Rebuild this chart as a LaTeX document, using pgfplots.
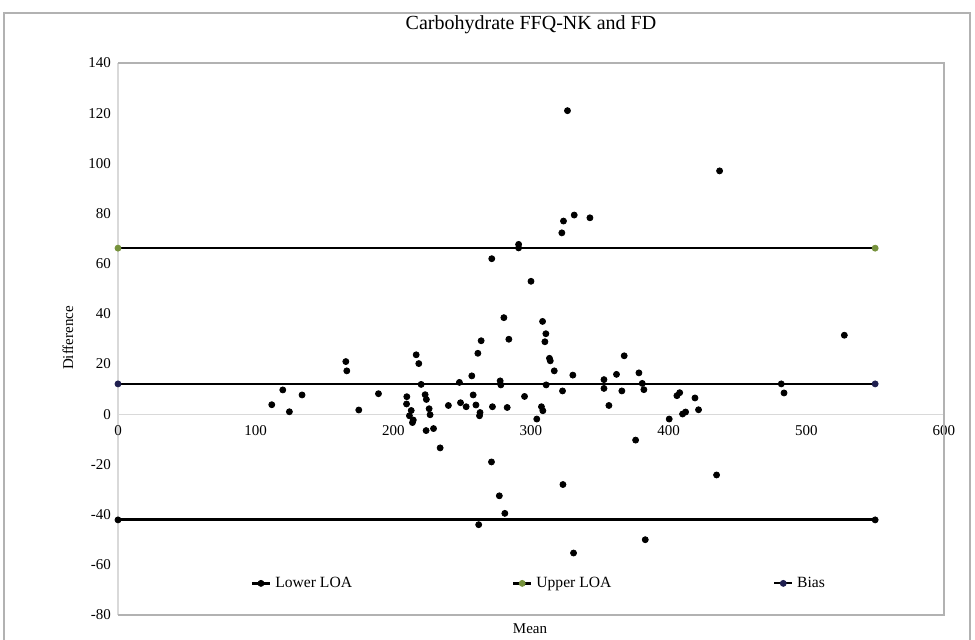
\documentclass[border=0pt]{standalone}
\usepackage{pgfplots}
\pgfplotsset{compat=1.18}
\usepackage{fontspec}
\setmainfont{Liberation Serif}
\definecolor{olivem}{HTML}{76923C}
\definecolor{navym}{HTML}{1F1F4F}
\pgfplotstableread{
x y
111.7 3.8
119.7 9.7
124.5 1.0
133.7 7.7
165.5 21
166.2 17.3
174.9 1.7
189.2 8.2
209.8 7.0
209.6 4.1
213 1.5
211.7 -0.6
214.5 -2.3
213.9 -3.3
216.6 23.7
218.5 20.2
220.2 11.9
223.1 7.8
224 5.9
226 2.2
226.7 -0.2
223.8 -6.5
229.2 -5.7
234 -13.4
240 3.5
248 12.7
248.8 4.6
252.9 3.0
257 15.3
258 7.7
260 3.7
261.4 24.3
263.8 29.3
263 0.7
262.6 -0.6
272 3.0
271.3 -19
277.6 13.3
278.1 11.7
282.7 2.7
283.9 29.9
280.3 38.5
295.3 7.1
304.2 -1.9
307.6 3.0
308.6 1.4
308.4 37
310.8 32.1
310.1 28.9
313.4 22.3
314 21.3
316.9 17.3
311 11.7
322.9 9.3
330.4 15.6
353 13.8
353 10.3
356.6 3.5
362.1 15.9
366 9.3
367.7 23.3
378.4 16.5
380.8 12.3
382 9.8
376 -10.3
323.2 -28
330.9 -55.3
383 -50
400.4 -1.9
406 7.4
408 8.6
410.1 0.1
412.3 0.9
419.1 6.5
421.7 1.8
434.8 -24.2
481.8 12.1
483.8 8.5
527.6 31.5
326.5 121
323.6 77
331.4 79.4
342.8 78.3
322.4 72.3
291 67.7
291 66.3
437 97
271.5 62
300 53
277 -32.5
281 -39.5
262 -44
}\pts
\begin{document}
\begin{tikzpicture}[x=0.5pt,y=0.5pt]
\path[use as bounding box] (0,0) rectangle (975,640);
\draw[gray!60, line width=1pt] (4,-10) -- (4,627) -- (970,627) -- (970,-10);
\node[font=\fontsize{10}{12}\selectfont] at (531,615) {Carbohydrate FFQ-NK and FD};
\node[rotate=90, font=\fontsize{7.5}{9}\selectfont] at (68,302) {Difference};
\node[font=\fontsize{7.5}{9}\selectfont] at (530,11) {Mean};
\begin{axis}[
  at={(59pt,12.5pt)}, anchor=south west,
  scale only axis, width=413pt, height=276pt,
  xmin=0, xmax=600, ymin=-80, ymax=140,
  xtick={0,100,...,600}, ytick={-80,-60,...,140},
  axis x line*=middle, axis y line*=left,
  hide obscured x ticks=false, hide obscured y ticks=false,
  axis line style={gray!30, line width=0.6pt},
  major tick length=0pt,
  /pgf/number format/assume math mode=true,
  tick label style={font=\fontsize{7.5}{9}\selectfont},
  xticklabel style={yshift=-2pt},
  legend columns=3,
  legend style={at={(axis cs:96,-67.4)}, anchor=west, draw=none, fill=none,
    font=\fontsize{7.8}{9}\selectfont, inner xsep=0pt,
    /tikz/column 2/.style={column sep=78pt},
    /tikz/column 4/.style={column sep=79pt}},
  legend image code/.code={\draw[#1, mark repeat=2, mark phase=2] plot coordinates {(0pt,0pt) (4.5pt,0pt) (9pt,0pt)};},
  clip=false,
]
\draw[gray!60, line width=0.8pt] (rel axis cs:0,1) -- (rel axis cs:1,1) -- (rel axis cs:1,0) -- (rel axis cs:0,0);
\addplot[only marks, mark=*, mark size=1.5pt, black, forget plot] table {\pts};
\addplot[black, line width=1.4pt, mark=*, mark size=1.5pt, mark options={solid, fill=black, line width=0.4pt}] coordinates {(0,-42.1) (550,-42.1)};
\addlegendentry{Lower LOA}
\addplot[black, line width=1.2pt, mark=*, mark size=1.5pt, mark options={solid, draw=olivem, fill=olivem, line width=0.4pt}] coordinates {(0,66.2) (550,66.2)};
\addlegendentry{Upper LOA}
\addplot[black, line width=0.9pt, mark=*, mark size=1.5pt, mark options={solid, draw=navym, fill=navym, line width=0.4pt}] coordinates {(0,12.1) (550,12.1)};
\addlegendentry{Bias}
\end{axis}
\end{tikzpicture}
\end{document}
